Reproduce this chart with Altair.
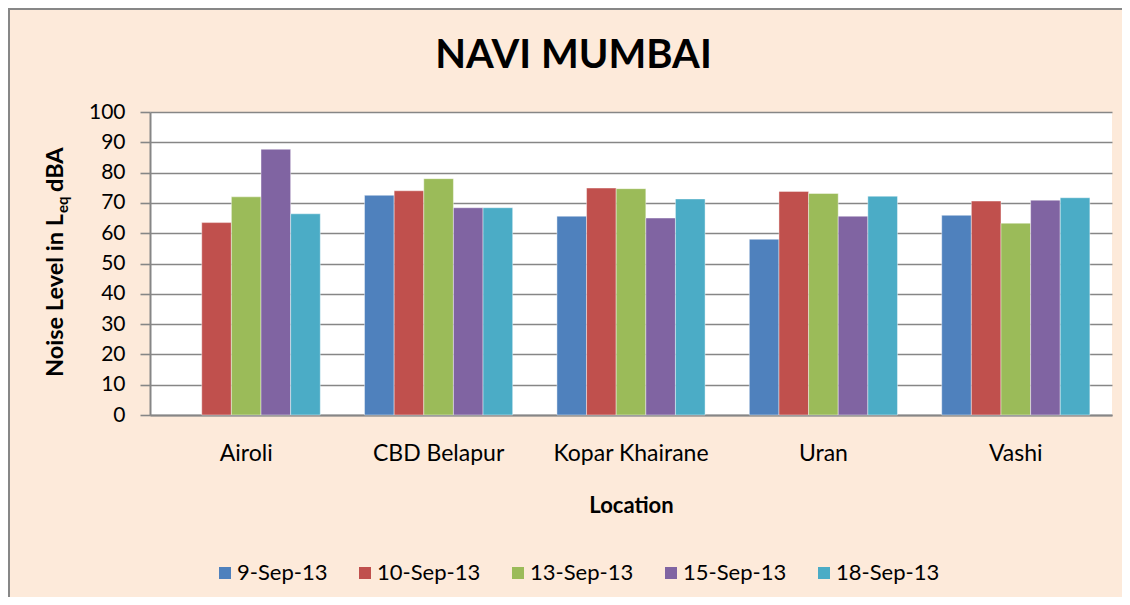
import altair as alt
import pandas as pd

locations = ["Airoli", "CBD Belapur", "Kopar Khairane", "Uran", "Vashi"]
dates = ["9-Sep-13", "10-Sep-13", "13-Sep-13", "15-Sep-13", "18-Sep-13"]
colors = ["#4F81BD", "#C0504D", "#9BBB59", "#8064A2", "#4BACC6"]

s_9sep = [None, 72.5, 65.6, 58.0, 65.9]
s_10sep = [63.5, 74.0, 74.9, 73.8, 70.6]
s_13sep = [72.0, 78.0, 74.7, 73.1, 63.3]
s_15sep = [87.7, 68.4, 65.0, 65.6, 70.9]
s_18sep = [66.4, 68.4, 71.3, 72.2, 71.7]
y_ticks = [0, 10, 20, 30, 40, 50, 60, 70, 80, 90, 100]

title_text = "NAVI MUMBAI"
x_title = "Location"
y_title_main = "Noise Level in L"
y_title_sub = "eq"
y_title_end = "dBA"

series = [s_9sep, s_10sep, s_13sep, s_15sep, s_18sep]
rows = []
for d, vals in zip(dates, series):
    for loc, v in zip(locations, vals):
        if v is not None:
            rows.append({"Location": loc, "Date": d, "Noise": v})
df = pd.DataFrame(rows)

FONT = "Lato"
GRID = "#868686"

bars = alt.Chart(df).mark_bar(stroke="white", strokeWidth=0.6, strokeOpacity=0.7).encode(
    x=alt.X(
        "Location:N",
        sort=locations,
        scale=alt.Scale(paddingInner=0.23, paddingOuter=0.115),
        axis=alt.Axis(
            title=x_title, labelAngle=0, labelFont=FONT, labelFontSize=23,
            labelColor="black", ticks=False, domainColor=GRID, domainWidth=2,
            labelPadding=27, titleFont=FONT, titleFontSize=22, titleFontWeight="bold",
            titleColor="black", titlePadding=30, grid=False,
        ),
    ),
    xOffset=alt.XOffset("Date:N", sort=dates, scale=alt.Scale(domain=dates)),
    y=alt.Y(
        "Noise:Q",
        scale=alt.Scale(domain=[0, 100]),
        axis=alt.Axis(
            values=y_ticks, title=None, grid=True, gridColor=GRID, gridWidth=1.6,
            tickSize=10, tickColor=GRID, tickWidth=1.6, domainColor=GRID, domainWidth=2,
            labelPadding=15, labelFont=FONT, labelFontSize=21, labelColor="black",
        ),
    ),
    color=alt.Color(
        "Date:N",
        sort=dates,
        scale=alt.Scale(domain=dates, range=colors),
        legend=alt.Legend(
            title=None, orient="none", legendX=64, legendY=450, direction="horizontal",
            symbolType="square", symbolSize=144, symbolStrokeWidth=0,
            labelFont=FONT, labelFontSize=22, labelColor="black",
            columnPadding=26, labelOffset=1, padding=0,
        ),
    ),
)

title_layer = alt.Chart(pd.DataFrame({"t": [title_text]})).mark_text(
    font=FONT, fontSize=40, fontWeight="bold", color="black", align="center", baseline="alphabetic"
).encode(text="t:N", x=alt.value(423.5), y=alt.value(-43.7))

ymain = alt.Chart(pd.DataFrame({"t": [y_title_main]})).mark_text(
    font=FONT, fontSize=23.5, fontWeight="bold", color="black", angle=270,
    align="left", baseline="alphabetic"
).encode(text="t:N", x=alt.value(-87), y=alt.value(265))

ysub = alt.Chart(pd.DataFrame({"t": [y_title_sub]})).mark_text(
    font=FONT, fontSize=15, fontWeight="bold", color="black", angle=270,
    align="left", baseline="alphabetic"
).encode(text="t:N", x=alt.value(-82), y=alt.value(101))

yend = alt.Chart(pd.DataFrame({"t": [y_title_end]})).mark_text(
    font=FONT, fontSize=23.5, fontWeight="bold", color="black", angle=270,
    align="left", baseline="alphabetic"
).encode(text="t:N", x=alt.value(-87), y=alt.value(80))

border_left = alt.Chart(pd.DataFrame({"t": [0]})).mark_rule(color="#878787", strokeWidth=2).encode(
    x=alt.value(-141), y=alt.value(-104), y2=alt.value(485)
)
border_top = alt.Chart(pd.DataFrame({"t": [0]})).mark_rule(color="#878787", strokeWidth=2).encode(
    x=alt.value(-142), x2=alt.value(972), y=alt.value(-103)
)

chart = alt.layer(bars, title_layer, ymain, ysub, yend, border_left, border_top).properties(
    width=962,
    height=303,
    autosize=alt.AutoSizeParams(type="none"),
    padding={"left": 142, "top": 104, "right": 10, "bottom": 182},
    background="#FDEADA",
).configure_view(
    fill="white", stroke=None
)

chart.save("out.html", embed_options={"renderer": "svg", "actions": False})
